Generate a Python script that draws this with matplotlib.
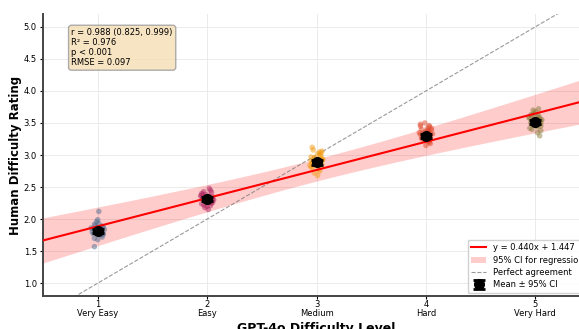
import numpy as np
import matplotlib.pyplot as plt

levels = [1, 2, 3, 4, 5]
level_names = ["Very Easy", "Easy", "Medium", "Hard", "Very Hard"]
point_colors = ["#4f6d8f", "#b02a62", "#f39c12", "#e0482a", "#8a7c3e"]

# individual ratings per level and their horizontal jitter
ratings_1 = [1.82, 1.85, 1.78, 1.90, 1.75, 1.88, 1.80, 1.83, 1.93, 1.70, 1.86, 1.79, 1.84,
             1.96, 1.72, 1.81, 1.87, 1.77, 1.89, 1.68, 1.83, 2.12, 1.57, 1.92, 1.76, 1.85,
             1.81, 1.86, 1.78, 1.99]
jitter_1 = [0.02, -0.04, 0.05, -0.02, 0.03, 0.05, -0.05, 0.00, 0.01, -0.03, -0.06, 0.03, 0.06,
            -0.01, 0.04, -0.03, 0.02, -0.04, 0.04, 0.00, -0.02, 0.01, -0.03, -0.03, 0.05, 0.01,
            -0.01, 0.03, 0.02, 0.00]
ratings_2 = [2.32, 2.35, 2.28, 2.40, 2.25, 2.38, 2.30, 2.33, 2.45, 2.20, 2.36, 2.29, 2.34,
             2.48, 2.22, 2.31, 2.37, 2.27, 2.42, 2.18, 2.33, 2.26, 2.39, 2.24, 2.30, 2.15,
             2.36, 2.29, 2.43, 2.21]
jitter_2 = [-0.03, 0.05, 0.01, -0.05, 0.04, -0.01, 0.06, -0.04, 0.03, 0.00, -0.06, 0.04, -0.02,
            0.02, -0.03, 0.05, -0.05, 0.03, 0.04, -0.02, 0.00, 0.05, -0.04, -0.05, 0.03, 0.01,
            0.02, -0.01, -0.03, 0.03]
ratings_3 = [2.90, 2.95, 2.85, 3.02, 2.82, 3.00, 2.88, 2.93, 3.08, 2.78, 2.97, 2.87, 2.92,
             3.12, 2.75, 2.91, 2.98, 2.84, 3.05, 2.72, 2.94, 2.80, 2.68, 3.03, 2.89, 2.86,
             2.96, 3.06, 2.83, 2.91]
jitter_3 = [0.04, -0.02, 0.05, 0.01, -0.05, 0.03, -0.04, 0.06, -0.03, 0.02, -0.05, 0.00, 0.05,
            -0.04, 0.03, -0.01, 0.04, -0.06, 0.03, -0.02, 0.05, -0.04, 0.01, 0.04, -0.03, 0.02,
            -0.02, 0.05, 0.02, -0.05]
ratings_4 = [3.32, 3.36, 3.28, 3.42, 3.24, 3.40, 3.30, 3.34, 3.48, 3.20, 3.38, 3.27, 3.33,
             3.50, 3.18, 3.31, 3.37, 3.25, 3.45, 3.15, 3.35, 3.22, 3.44, 3.29, 3.39, 3.26,
             3.41, 3.35, 3.23, 3.46]
jitter_4 = [-0.05, 0.03, 0.00, 0.05, -0.02, -0.04, 0.04, 0.02, -0.05, 0.03, 0.01, -0.03, 0.06,
            -0.01, 0.04, -0.03, 0.02, 0.04, -0.05, 0.00, -0.06, 0.03, 0.03, -0.02, 0.05, -0.04,
            0.01, -0.02, 0.02, 0.03]
ratings_5 = [3.53, 3.57, 3.48, 3.62, 3.45, 3.60, 3.50, 3.55, 3.68, 3.42, 3.58, 3.47, 3.54,
             3.72, 3.40, 3.52, 3.59, 3.46, 3.65, 3.38, 3.56, 3.30, 3.35, 3.63, 3.49, 3.51,
             3.70, 3.44, 3.61, 3.56]
jitter_5 = [0.01, -0.05, 0.04, -0.03, 0.05, 0.02, -0.04, 0.06, 0.00, -0.05, 0.04, -0.02, 0.05,
            0.03, -0.03, 0.04, -0.06, 0.01, -0.01, 0.05, 0.03, 0.04, 0.02, -0.04, 0.05, -0.03,
            -0.02, 0.02, 0.03, -0.01]

all_ratings = [ratings_1, ratings_2, ratings_3, ratings_4, ratings_5]
all_jitter = [jitter_1, jitter_2, jitter_3, jitter_4, jitter_5]

means = [1.82, 2.31, 2.89, 3.30, 3.52]
mean_ci = [0.03, 0.03, 0.04, 0.03, 0.03]

slope = 0.440
intercept = 1.447
t_crit = 3.182  # t(0.975, df=3)

fig = plt.figure(figsize=(5.79, 3.29), dpi=100)
ax = fig.add_axes([0.0743, 0.1003, 0.9447, 0.857])

for lv, ys, jit, col in zip(levels, all_ratings, all_jitter, point_colors):
    ax.scatter(np.array(jit) + lv, ys, s=16, color=col, alpha=0.5, edgecolors="none", zorder=3)

xs = np.linspace(0.5, 5.5, 200)
lv_arr = np.array(levels, dtype=float)
fit = slope * lv_arr + intercept
s = np.sqrt(np.sum((np.array(means) - fit) ** 2) / (len(levels) - 2))
sxx = np.sum((lv_arr - lv_arr.mean()) ** 2)
half = t_crit * s * np.sqrt(1 / len(levels) + (xs - lv_arr.mean()) ** 2 / sxx)
line = slope * xs + intercept

ax.plot(xs, line, color="red", lw=1.5, zorder=4, label="y = 0.440x + 1.447")
ax.fill_between(xs, line - half, line + half, color="red", alpha=0.2, lw=0,
                zorder=1, label="95% CI for regression")
ax.plot([0.5, 5.5], [0.5, 5.5], ls="--", color="gray", lw=0.8, alpha=0.8,
        zorder=2, label="Perfect agreement")
ax.errorbar(levels, means, yerr=mean_ci, fmt="o", color="black", markersize=7,
            capsize=4, capthick=2, elinewidth=2, zorder=5, label="Mean ± 95% CI")

ax.set_xlim(0.5, 5.5)
ax.set_ylim(0.8, 5.2)
ax.set_xticks(levels)
ax.set_xticklabels([f"{lv}\n{n}" for lv, n in zip(levels, level_names)], fontsize=6,
                   linespacing=0.95)
ax.set_yticks(np.arange(1.0, 5.01, 0.5))
ax.tick_params(axis="y", labelsize=6, pad=2, length=2.5)
ax.tick_params(axis="x", pad=1, length=2)
ax.set_xlabel("GPT-4o Difficulty Level", fontsize=9, fontweight="bold")
ax.xaxis.set_label_coords(0.5, -0.092)
ax.set_ylabel("Human Difficulty Rating", fontsize=8.5, fontweight="bold")
ax.yaxis.set_label_coords(-0.038, 0.5)
ax.grid(True, color="#ebebeb", lw=0.7)
ax.set_axisbelow(True)
for sp in ["top", "right"]:
    ax.spines[sp].set_visible(False)
for sp in ["left", "bottom"]:
    ax.spines[sp].set_linewidth(1.4)
    ax.spines[sp].set_color("#444444")

ax.text(0.052, 0.95, "r = 0.988 (0.825, 0.999)\nR² = 0.976\np < 0.001\nRMSE = 0.097",
        transform=ax.transAxes, va="top", ha="left", fontsize=6.0, linespacing=1.15,
        bbox=dict(boxstyle="round,pad=0.35", facecolor="wheat", alpha=0.8, edgecolor="#999999"))

ax.legend(loc="lower right", fontsize=6, framealpha=0.9, borderaxespad=0.4,
          handlelength=1.8, labelspacing=0.4)

fig.savefig("out.png", dpi=100)
